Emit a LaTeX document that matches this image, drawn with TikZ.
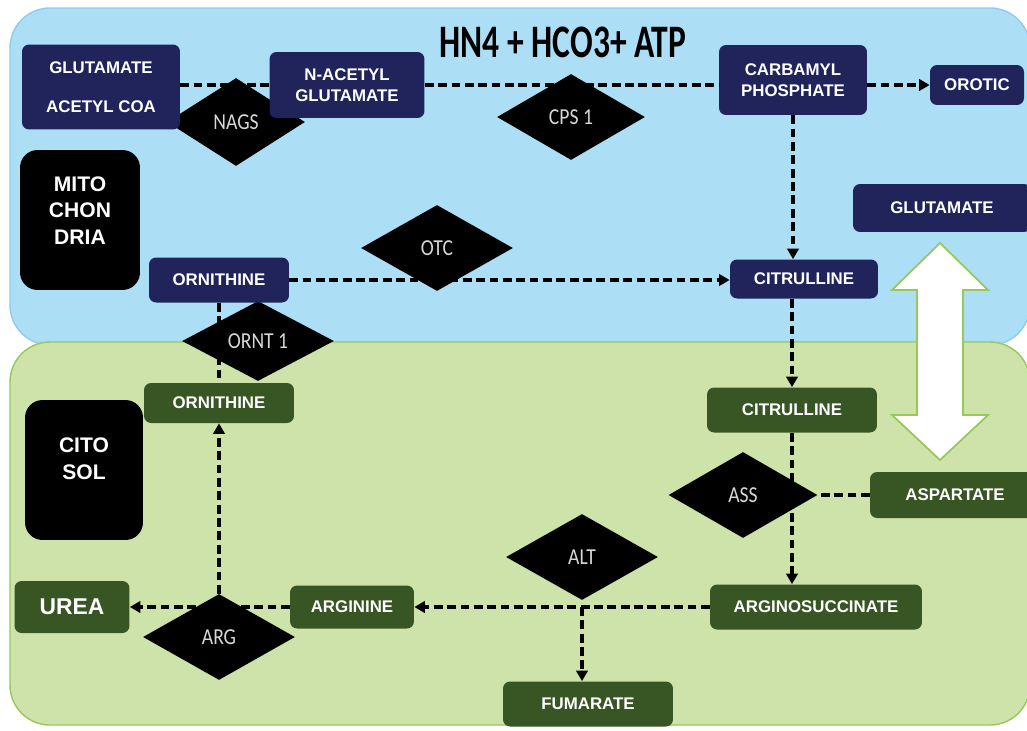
\documentclass[tikz,border=0pt]{standalone}
\usepackage{fontspec}
\setmainfont{Liberation Sans}
\newfontfamily\enzfont[FakeStretch=0.86]{Carlito}
\newfontfamily\titlefont[FakeStretch=0.72]{Carlito}
\usepackage{tikz}
\usetikzlibrary{shapes.geometric}
\usetikzlibrary{arrows.meta}

\definecolor{mitoblue}{RGB}{172,222,245}
\definecolor{mitoedge}{RGB}{140,205,240}
\definecolor{cytolight}{RGB}{205,227,170}
\definecolor{cytoedge}{RGB}{150,200,90}
\definecolor{mitonavy}{RGB}{32,36,90}
\definecolor{cytogreen}{RGB}{56,86,36}
\definecolor{enzgray}{RGB}{215,215,215}

\begin{document}
\begin{tikzpicture}[
    x=0.02cm, y=-0.02cm, % one unit = one pixel of the layout, y going down
    mol/.style={rectangle, rounded corners=4pt, fill=mitonavy, text=white, align=center,
        inner sep=0pt, font=\bfseries\fontsize{9.6}{12}\selectfont}, % molecule in the mitochondria
    cyto/.style={mol, fill=cytogreen}, % molecule in the cytosol
    enzyme/.style={diamond, fill=black, text=enzgray, inner sep=0pt,
        minimum width=3.04cm, minimum height=1.72cm, font=\enzfont\fontsize{13}{14}\selectfont},
    zone/.style={rectangle, rounded corners=10pt, fill=black, text=white, align=center,
        minimum width=2.4cm, minimum height=2.8cm, font=\bfseries\fontsize{12}{15}\selectfont},
    flow/.style={line width=1.9pt, dash pattern=on 5pt off 2.6pt}, % dashed path
    flowto/.style={flow, -{Triangle[length=6pt,width=6.5pt]}} % dashed path with arrow
]

    % page and the two compartments
    \useasboundingbox (0,0) rectangle (1027,730);
    \fill[white] (0,0) rectangle (1027,730);
    \draw[fill=mitoblue, draw=mitoedge, line width=0.8pt, rounded corners=0.8cm] (10,8) rectangle (1030,345);
    \draw[fill=cytolight, draw=cytoedge, line width=0.8pt, rounded corners=0.8cm] (10,342) rectangle (1030,725);

    \node[font=\titlefont\bfseries\fontsize{26.5}{28}\selectfont, inner sep=0pt] (title) at (563,42) {HN4 + HCO3+ ATP};

    % enzymes first, the boxes lie over their tips
    \node[enzyme, minimum width=2.76cm, minimum height=1.76cm] (nags) at (236,122) {NAGS};
    \node[enzyme, minimum width=2.96cm] (cps) at (571,117) {CPS 1};
    \node[enzyme] (otc) at (437,248) {OTC};
    \node[enzyme, minimum height=1.6cm] (ornt) at (258,341) {ORNT 1};
    \node[enzyme, minimum width=2.98cm] (ass) at (743,495) {ASS};
    \node[enzyme] (alt) at (582,557) {ALT};
    \node[enzyme] (argd) at (219,637) {ARG};

    % compartment labels
    \node[zone] (mito) at (80,220) {MITO\\CHON\\DRIA\\[-4pt]};
    \node[zone, minimum width=2.36cm] (cito) at (84,470) {CITO\\SOL\\[-2pt]};

    % mitochondria
    \node[mol, minimum width=3.16cm, minimum height=1.7cm] (gluac) at (101,87) {GLUTAMATE\\[10pt]ACETYL COA};
    \node[mol, minimum width=3.1cm, minimum height=1.32cm] (nag) at (347,85) {N-ACETYL\\GLUTAMATE};
    \node[mol, minimum width=2.96cm, minimum height=1.4cm] (carb) at (793,80) {CARBAMYL\\PHOSPHATE};
    \node[mol, minimum width=1.88cm, minimum height=0.8cm] (orotic) at (977,85) {OROTIC};
    \node[mol, minimum width=3.56cm, minimum height=0.96cm] (glur) at (942,208) {GLUTAMATE};
    \node[mol, minimum width=2.8cm, minimum height=0.9cm] (orm) at (219,280) {ORNITHINE};
    \node[mol, minimum width=2.96cm, minimum height=0.78cm] (citm) at (804,279) {CITRULLINE};

    % cytosol
    \node[cyto, minimum width=3cm, minimum height=0.8cm] (orc) at (219,403) {ORNITHINE};
    \node[cyto, minimum width=3.4cm, minimum height=0.9cm] (citc) at (792,410) {CITRULLINE};
    \node[cyto, minimum width=3.4cm, minimum height=0.92cm] (asp) at (955,495) {ASPARTATE};
    \node[cyto, minimum width=4.24cm, minimum height=0.9cm] (argsuc) at (816,607) {ARGINOSUCCINATE};
    \node[cyto, minimum width=2.48cm, minimum height=0.86cm] (arg) at (352,607) {ARGININE};
    \node[cyto, minimum width=2.3cm, minimum height=1.04cm, font=\bfseries\fontsize{13}{15}\selectfont] (urea) at (72,607) {UREA};
    \node[cyto, minimum width=3.4cm, minimum height=0.9cm] (fum) at (588,704) {FUMARATE};

    % glutamate / aspartate exchange
    \draw[fill=white, draw=cytoedge, line width=1pt] (940,243) -- (988,290) -- (963,290) -- (963,415)
        -- (988,415) -- (940,460) -- (892,415) -- (917,415) -- (917,290) -- (892,290) -- cycle;

    % the cycle
    \draw[flow] (gluac.east |- nag.west) -- (nag.west);
    \draw[flow] (nag.east) -- (nag.east -| carb.west);
    \draw[flowto] (carb.east |- orotic.west) -- (orotic.west);
    \draw[flowto] (carb.south) -- (carb.south |- citm.north);
    \draw[flowto] (orm.east) -- (orm.east -| citm.west);
    \draw[flow] (orm.south) -- (orc.north);
    \draw[flowto] (citc.north |- citm.south) -- (citc.north);
    \draw[flowto] (citc.south) -- (citc.south |- argsuc.north);
    \draw[flow] (asp.west) -- (ass.east);
    \draw[flowto] (argsuc.west) -- (arg.east);
    \draw[flowto] (alt.south |- argsuc.west) -- (alt.south |- fum.north);
    \draw[flowto] (arg.west) -- (urea.east);
    \draw[flowto] (argd.north) -- (orc.south);
\end{tikzpicture}
\end{document}
